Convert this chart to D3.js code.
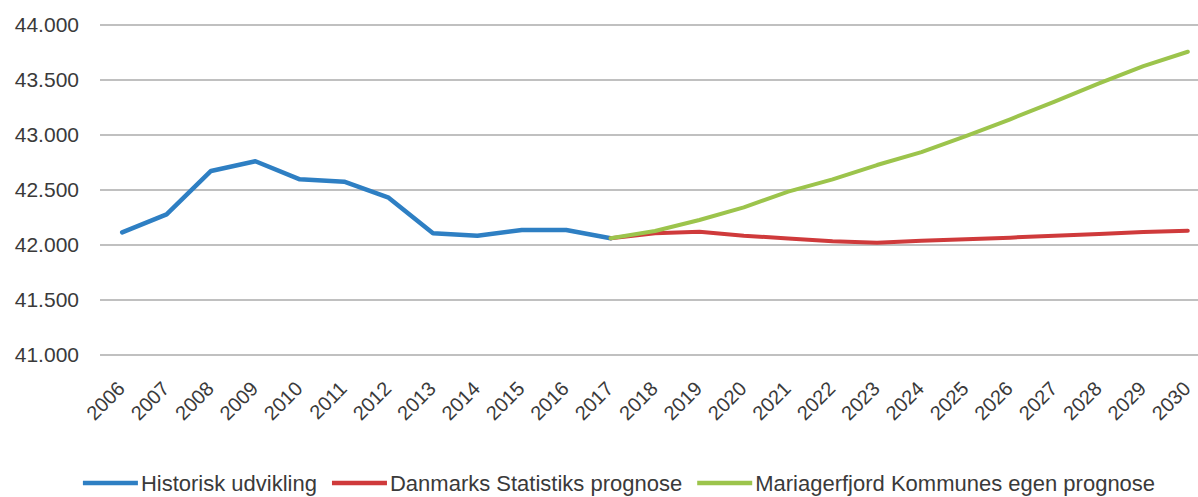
<!DOCTYPE html>
<html>
<head>
<meta charset="utf-8">
<script src="https://cdn.jsdelivr.net/npm/d3@7"></script>
<style>
    html, body { margin: 0; padding: 0; background: #fff; }
    text { font-family: "Liberation Sans", Arial, sans-serif; fill: #3a3a3a; }
</style>
</head>
<body>
<div id="chart"></div>
<script>
    "use strict";

    // categories (x axis)
    var years = ["2006", "2007", "2008", "2009", "2010", "2011", "2012", "2013", "2014", "2015", "2016", "2017",
        "2018", "2019", "2020", "2021", "2022", "2023", "2024", "2025", "2026", "2027", "2028", "2029", "2030"];

    // historical development 2006-2017
    var historiskYears = ["2006", "2007", "2008", "2009", "2010", "2011", "2012", "2013", "2014", "2015", "2016", "2017"];
    var historisk = [42115, 42279, 42673, 42761, 42597, 42576, 42430, 42106, 42085, 42136, 42136, 42061];

    // forecasts 2017-2030
    var prognoseYears = ["2017", "2018", "2019", "2020", "2021", "2022", "2023", "2024", "2025", "2026", "2027", "2028", "2029", "2030"];
    var dstPrognose = [42061, 42106, 42121, 42085, 42060, 42035, 42021, 42039, 42052, 42067, 42085, 42100, 42118, 42130];
    var egenPrognose = [42061, 42127, 42227, 42342, 42485, 42597, 42727, 42845, 42990, 43143, 43303, 43470, 43627, 43757];

    var yTicks = [41000, 41500, 42000, 42500, 43000, 43500, 44000];

    var seriesNames = ["Historisk udvikling", "Danmarks Statistiks prognose", "Mariagerfjord Kommunes egen prognose"];
    var seriesColors = ["#2e7fc3", "#cf3a3b", "#9cc44c"];

    var width = 1198,
        height = 497;

    var svg = d3.select("#chart").append("svg")
        .attr("width", width)
        .attr("height", height);

    // plot area runs past the right edge, like the cropped original
    var x = d3.scaleBand()
        .domain(years)
        .range([100, 100 + 44.4 * years.length]);

    var y = d3.scaleLinear()
        .domain([41000, 44000])
        .range([355, 25]);

    var fmt = function (v) {
        return d3.format(",")(v).replace(/,/g, ".");
    };

    // gridlines
    svg.append("g").selectAll("line")
        .data(yTicks)
        .enter().append("line")
        .attr("x1", x.range()[0])
        .attr("x2", width)
        .attr("y1", function (d) { return y(d); })
        .attr("y2", function (d) { return y(d); })
        .attr("stroke", "#ababab")
        .attr("stroke-width", 1.6);

    // y labels
    svg.append("g").selectAll("text")
        .data(yTicks)
        .enter().append("text")
        .attr("x", 79)
        .attr("y", function (d) { return y(d); })
        .attr("dy", "0.35em")
        .attr("text-anchor", "end")
        .style("font-size", "21px")
        .text(fmt);

    // x labels, rotated
    svg.append("g").selectAll("text")
        .data(years)
        .enter().append("text")
        .attr("transform", function (d) {
            return "translate(" + (x(d) + x.bandwidth() / 2 + 4) + ",390) rotate(-45)";
        })
        .attr("text-anchor", "end")
        .style("font-size", "20px")
        .text(function (d) { return d; });

    var line = d3.line()
        .x(function (d) { return x(d[0]) + x.bandwidth() / 2; })
        .y(function (d) { return y(d[1]); });

    var series = [
        d3.zip(historiskYears, historisk),
        d3.zip(prognoseYears, dstPrognose),
        d3.zip(prognoseYears, egenPrognose)
    ];

    svg.append("g").selectAll("path")
        .data(series)
        .enter().append("path")
        .attr("d", line)
        .attr("fill", "none")
        .attr("stroke", function (d, i) { return seriesColors[i]; })
        .attr("stroke-width", function (d, i) { return i === 0 ? 4.5 : 4; })
        .attr("stroke-linejoin", "round")
        .attr("stroke-linecap", "round");

    // legend, laid out left to right then centred
    var legend = svg.append("g");
    var cursor = 0;
    seriesNames.forEach(function (name, i) {
        var item = legend.append("g").attr("transform", "translate(" + cursor + ",0)");
        item.append("line")
            .attr("x1", 0).attr("x2", 55)
            .attr("y1", 0).attr("y2", 0)
            .attr("stroke", seriesColors[i])
            .attr("stroke-width", 4.5);
        var t = item.append("text")
            .attr("x", 58)
            .attr("dy", "0.35em")
            .style("font-size", "22px")
            .text(name);
        cursor += 58 + t.node().getComputedTextLength() + 15;
    });
    cursor -= 15;
    legend.attr("transform", "translate(" + (619 - cursor / 2) + ",483)");
</script>
</body>
</html>
